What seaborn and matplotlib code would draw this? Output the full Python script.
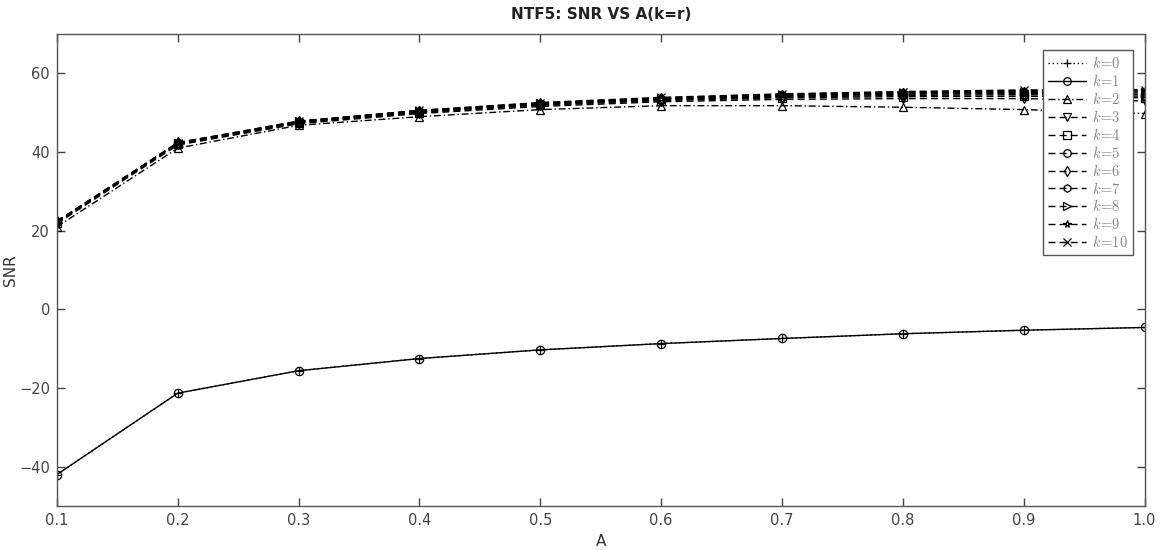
import matplotlib
matplotlib.use("Agg")
import matplotlib.pyplot as plt
import seaborn as sns
import pandas as pd

sns.set_theme(style="white")
plt.rcParams['font.family'] = ['DejaVu Sans']
plt.rcParams['mathtext.fontset'] = 'cm'

A = [0.1, 0.2, 0.3, 0.4, 0.5, 0.6, 0.7, 0.8, 0.9, 1.0]

snr_k0 = [-42.0, -21.3, -15.6, -12.5, -10.3, -8.7, -7.4, -6.2, -5.3, -4.6]
snr_k1 = [-42.0, -21.3, -15.6, -12.5, -10.3, -8.7, -7.4, -6.2, -5.3, -4.6]
snr_k2 = [21.0, 41.0, 46.8, 49.0, 50.8, 51.8, 51.8, 51.4, 50.8, 49.8]
snr_k3 = [21.8, 41.8, 47.2, 49.8, 51.6, 52.8, 53.4, 53.6, 53.6, 53.0]
snr_k4 = [22.0, 42.0, 47.4, 50.0, 51.9, 53.1, 53.8, 54.1, 54.2, 53.8]
snr_k5 = [22.1, 42.1, 47.5, 50.2, 52.0, 53.3, 54.0, 54.4, 54.6, 54.2]
snr_k6 = [22.2, 42.2, 47.6, 50.3, 52.2, 53.5, 54.2, 54.7, 54.9, 54.6]
snr_k7 = [22.3, 42.3, 47.7, 50.4, 52.3, 53.6, 54.4, 54.9, 55.2, 55.0]
snr_k8 = [22.3, 42.3, 47.8, 50.5, 52.4, 53.7, 54.5, 55.1, 55.4, 55.3]
snr_k9 = [22.4, 42.4, 47.8, 50.6, 52.5, 53.8, 54.7, 55.3, 55.6, 55.6]
snr_k10 = [22.4, 42.4, 47.9, 50.6, 52.6, 53.9, 54.8, 55.4, 55.8, 55.9]

series = [snr_k0, snr_k1, snr_k2, snr_k3, snr_k4, snr_k5,
          snr_k6, snr_k7, snr_k8, snr_k9, snr_k10]
k_labels = [f"$k\\!=\\!{i}$" for i in range(11)]

markers = ['+', 'o', '^', 'v', 's', 'o', 'd', 'h', '>', '*', 'x']
dashes = [(1, 2), '', (5, 2, 1, 2)] + [(5, 3)] * 8

fig = plt.figure(figsize=(11.62, 5.5), dpi=100)
ax = fig.add_axes([0.049, 0.08, 0.936, 0.858])

for vals, lab, mk, ds in zip(series, k_labels, markers, dashes):
    df = pd.DataFrame({"A": A, "SNR": vals})
    line_ls = '-' if ds == '' else (0, ds)
    sns.lineplot(data=df, x="A", y="SNR", ax=ax, color='black',
                 linewidth=1.0, marker=mk, markersize=6,
                 markerfacecolor='none', markeredgecolor='black',
                 markeredgewidth=0.9, label=lab, linestyle=line_ls)

ax.set_xlim(0.1, 1.0)
ax.set_ylim(-50, 70)
ax.set_xticks(A)
ax.set_xticklabels([f"{v:.1f}" for v in A])
ax.set_yticks([-40, -20, 0, 20, 40, 60])
ax.tick_params(direction='in', length=6, width=1, colors='#444444',
               labelsize=10.5, top=True, right=True, bottom=True, left=True,
               pad=5)
for s in ax.spines.values():
    s.set_color('#555555')
    s.set_linewidth(1.0)

ax.set_xlabel("A", fontsize=11, color='#333333', labelpad=4)
ax.set_ylabel("SNR", fontsize=11, color='#333333')
ax.yaxis.set_label_coords(-0.036, 0.5)
ax.set_title("NTF5: SNR VS A(k=r)", fontsize=11, fontweight='bold',
             color='#222222', pad=11)

leg = ax.legend(loc='upper right', bbox_to_anchor=(0.989, 0.966),
                frameon=True, fancybox=False, fontsize=10.5, framealpha=1,
                handlelength=2.6, handletextpad=0.4, labelspacing=0.13,
                borderpad=0.35, borderaxespad=0, markerscale=0.9)
leg.get_frame().set_edgecolor('#555555')
leg.get_frame().set_linewidth(1.0)
for t in leg.get_texts():
    t.set_color('#888888')

fig.savefig("out.png", dpi=100)
